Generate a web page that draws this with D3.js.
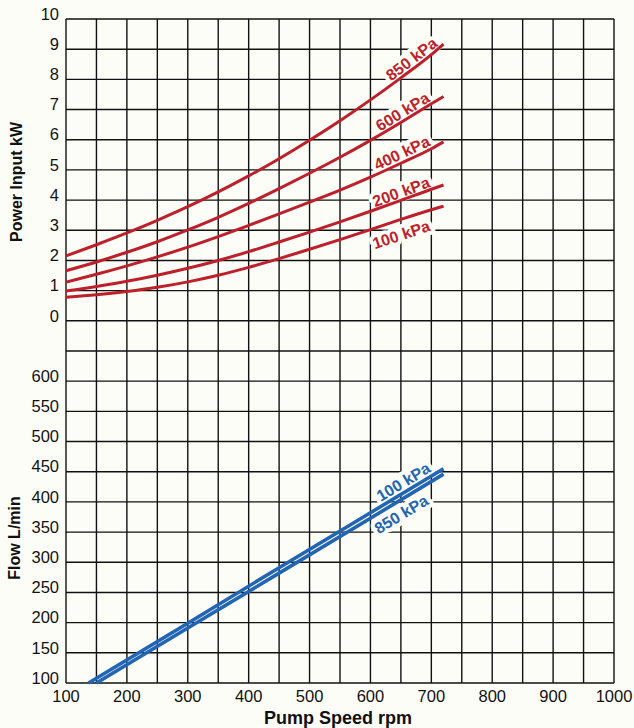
<!DOCTYPE html>
<html>
<head>
<meta charset="utf-8">
<script src="https://cdn.jsdelivr.net/npm/d3@7"></script>
<style>
  body { margin: 0; background: #fdfdf7; }
  svg { display: block; font-family: "Liberation Sans", Arial, Helvetica, sans-serif; }
</style>
</head>
<body>
<div id="chart"></div>
<script>
// pump speed (rpm) where the power curves are read
const speeds = [100, 150, 200, 250, 300, 350, 400, 450, 500, 550, 600, 650, 700, 720];
// power input kW, one list per pressure
const power850 = [2.15, 2.52, 2.91, 3.33, 3.78, 4.27, 4.8, 5.37, 5.98, 6.63, 7.32, 8.05, 8.82, 9.17];
const power600 = [1.66, 1.95, 2.27, 2.62, 3.01, 3.43, 3.89, 4.38, 4.89, 5.42, 5.98, 6.57, 7.19, 7.43];
const power400 = [1.28, 1.54, 1.82, 2.12, 2.44, 2.79, 3.16, 3.54, 3.93, 4.33, 4.76, 5.22, 5.7, 5.93];
const power200 = [0.99, 1.14, 1.31, 1.51, 1.74, 2.0, 2.29, 2.61, 2.94, 3.28, 3.63, 3.99, 4.36, 4.5];
const power100 = [0.78, 0.86, 0.97, 1.11, 1.29, 1.51, 1.77, 2.06, 2.37, 2.69, 3.02, 3.36, 3.68, 3.8];
const powerNames = ["850 kPa", "600 kPa", "400 kPa", "200 kPa", "100 kPa"];

// flow L/min
const flowSpeeds100 = [137, 300, 450, 600, 720];
const flow100 = [100, 199, 291, 382, 455];
const flowSpeeds850 = [150, 300, 450, 600, 720];
const flow850 = [100, 191, 282, 373, 446];
const flowNames = ["100 kPa", "850 kPa"];

// tick labels
const speedTicks = [100, 200, 300, 400, 500, 600, 700, 800, 900, 1000];
const powerTicks = [0, 1, 2, 3, 4, 5, 6, 7, 8, 9, 10];
const flowTicks = [100, 150, 200, 250, 300, 350, 400, 450, 500, 550, 600];

const width = 634,
  height = 728,
  bg = "#fdfdf7",
  red = "#bd1f2b",
  blue = "#2265b5";

const x = d3.scaleLinear().domain([100, 1000]).range([66, 614]);
const yP = d3.scaleLinear().domain([0, 10]).range([320.8, 19]);
const yF = d3.scaleLinear().domain([100, 700]).range([683, 320.8]);

const svg = d3.select("#chart").append("svg").attr("width", width).attr("height", height);
svg.append("rect").attr("width", width).attr("height", height).attr("fill", bg);

// grid
const grid = svg.append("g").attr("stroke", "#111").attr("stroke-width", 1.4).attr("fill", "none");
grid
  .selectAll("line.v")
  .data(d3.range(100, 1001, 50))
  .join("line")
  .attr("x1", (d) => x(d))
  .attr("x2", (d) => x(d))
  .attr("y1", yP(10))
  .attr("y2", yF(100));
grid
  .selectAll("line.p")
  .data(powerTicks)
  .join("line")
  .attr("class", "p")
  .attr("x1", x(100))
  .attr("x2", x(1000))
  .attr("y1", (d) => yP(d))
  .attr("y2", (d) => yP(d));
grid
  .selectAll("line.f")
  .data(d3.range(100, 651, 50))
  .join("line")
  .attr("class", "f")
  .attr("x1", x(100))
  .attr("x2", x(1000))
  .attr("y1", (d) => yF(d))
  .attr("y2", (d) => yF(d));

// tick labels
const ticks = svg.append("g").attr("font-size", 16.5).attr("fill", "#111");
ticks
  .selectAll("text.p")
  .data(powerTicks)
  .join("text")
  .attr("x", 59)
  .attr("y", (d) => yP(d) - 5)
  .attr("text-anchor", "end")
  .attr("dy", "0.35em")
  .text((d) => d);
ticks
  .selectAll("text.f")
  .data(flowTicks)
  .join("text")
  .attr("x", 59)
  .attr("y", (d) => yF(d) - 5)
  .attr("text-anchor", "end")
  .attr("dy", "0.35em")
  .text((d) => d);
ticks
  .selectAll("text.s")
  .data(speedTicks)
  .join("text")
  .attr("x", (d) => x(d))
  .attr("y", 696)
  .attr("text-anchor", "middle")
  .attr("dy", "0.35em")
  .text((d) => d);

// axis titles
const titles = svg.append("g").attr("font-weight", "bold").attr("fill", "#111").attr("text-anchor", "middle");
titles.append("text").attr("transform", "translate(22,182) rotate(-90)").attr("font-size", 16).text("Power Input kW");
titles.append("text").attr("transform", "translate(20,538) rotate(-90)").attr("font-size", 16).text("Flow L/min");
titles.append("text").attr("x", 338).attr("y", 724).attr("font-size", 18).text("Pump Speed rpm");

// series as [speed, value] pairs
const powerSeries = [power850, power600, power400, power200, power100].map((vals) =>
  vals.map((v, i) => [speeds[i], v])
);
const flowSeries = [
  flow100.map((v, i) => [flowSpeeds100[i], v]),
  flow850.map((v, i) => [flowSpeeds850[i], v]),
];

const powerLine = d3
  .line()
  .x((d) => x(d[0]))
  .y((d) => yP(d[1]))
  .curve(d3.curveMonotoneX);
const flowLine = d3
  .line()
  .x((d) => x(d[0]))
  .y((d) => yF(d[1]));

// label placement: speed along the curve, offset normal to it (px)
const powerLabelAt = [676, 660, 658, 655, 643];
const powerLabelOff = [8.5, 8.5, 9, 8, -14.5];
const flowLabelAt = [662, 640];
const flowLabelOff = [9.5, -12.5];

function placeLabel(series, yScale, at, off) {
  const xs = series.map((d) => d[0]),
    vs = series.map((d) => d[1]);
  const f = d3.scaleLinear().domain(xs).range(vs);
  const px = x(at),
    py = yScale(f(at));
  const a = Math.atan2(yScale(f(at + 15)) - yScale(f(at - 15)), x(at + 15) - x(at - 15));
  return {
    x: px + Math.sin(a) * off,
    y: py - Math.cos(a) * off,
    deg: (a * 180) / Math.PI,
  };
}

const labels = [];
powerSeries.forEach((s, i) => {
  labels.push({ text: powerNames[i], color: red, ...placeLabel(s, yP, powerLabelAt[i], powerLabelOff[i]) });
});
flowSeries.forEach((s, i) => {
  labels.push({ text: flowNames[i], color: blue, ...placeLabel(s, yF, flowLabelAt[i], flowLabelOff[i]) });
});

function drawLabels(g, halo) {
  g.selectAll("text")
    .data(labels)
    .join("text")
    .attr("transform", (d) => `translate(${d.x},${d.y}) rotate(${d.deg})`)
    .attr("text-anchor", "middle")
    .attr("dy", "0.35em")
    .attr("font-size", 16)
    .attr("font-weight", "bold")
    .attr("fill", (d) => (halo ? bg : d.color))
    .attr("stroke", halo ? bg : "none")
    .attr("stroke-width", halo ? 8 : 0)
    .attr("stroke-linejoin", "round")
    .text((d) => d.text);
}

// halo clears the grid behind labels, curves go over it
drawLabels(svg.append("g"), true);

svg
  .append("g")
  .selectAll("path")
  .data(powerSeries)
  .join("path")
  .attr("d", powerLine)
  .attr("fill", "none")
  .attr("stroke", red)
  .attr("stroke-width", 3)
  .attr("stroke-linecap", "butt");

svg
  .append("g")
  .selectAll("path")
  .data(flowSeries)
  .join("path")
  .attr("d", flowLine)
  .attr("fill", "none")
  .attr("stroke", blue)
  .attr("stroke-width", 3.6);

drawLabels(svg.append("g"), false);
</script>
</body>
</html>
